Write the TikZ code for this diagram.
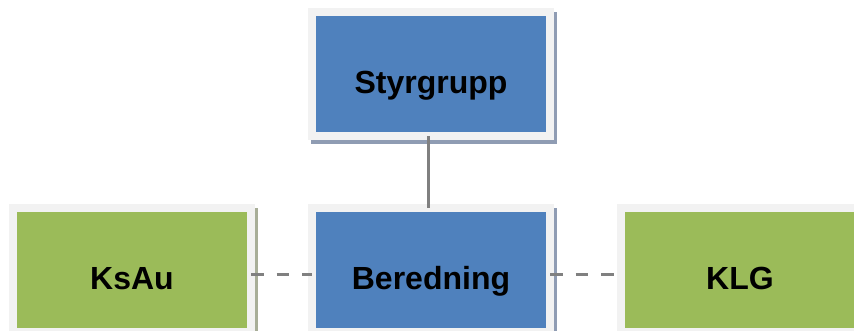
\documentclass[tikz,border=0pt]{standalone}
\usepackage{fontspec}
\setmainfont{Liberation Sans}
\usepackage{xcolor}
\usepackage{tikz}
\usetikzlibrary{positioning,backgrounds}

\definecolor{boxblue}{HTML}{4F81BD}
\definecolor{boxgreen}{HTML}{9BBB59}
\definecolor{boxframe}{HTML}{F2F2F2}
\definecolor{blueshade}{HTML}{8F9CB3}
\definecolor{greenshade}{HTML}{A8AE98}
\definecolor{linkgray}{HTML}{808080}

\begin{document}
\begin{tikzpicture}[
    x=1pt, y=1pt,
    every node/.style = {draw=boxframe, line width=8pt, minimum width=238pt,
      minimum height=124pt, inner sep=0pt, outer sep=0pt,
      font=\bfseries\fontsize{32}{32}\selectfont,
      text height=46pt, text depth=7pt},
    blue box/.style = {fill=boxblue},
    green box/.style = {fill=boxgreen},
    link/.style = {draw=linkgray, line width=3pt}
  ]
  \useasboundingbox (0,0) rectangle (854,330);

  % top
  \node[blue box] (styr) at (431,256) {Styrgrupp};

  % bottom row
  \node[green box] (ksau) at (132,60.5) {KsAu};
  \node[blue box] (ber) at (431,60.5) {Beredning};
  \node[green box] (klg) at (740,60.5) {KLG};

  % shadows
  \begin{scope}[on background layer]
    \foreach \n/\c in {styr/blueshade, ber/blueshade, ksau/greenshade, klg/greenshade}
      \fill[\c] ([shift={(-1,-8)}]\n.south west) rectangle ([shift={(7,0)}]\n.north east);
  \end{scope}

  % links
  \draw[link] ([xshift=-2.5]styr.south) -- ([xshift=-2.5]ber.north);
  \draw[link, dash pattern=on 12.5pt off 13pt] ([yshift=-4.5]ksau.east) -- ([yshift=-4.5]ber.west);
  \draw[link, dash pattern=on 12.5pt off 13pt] ([yshift=-4.5]ber.east) -- ([yshift=-4.5]klg.west);
\end{tikzpicture}
\end{document}
